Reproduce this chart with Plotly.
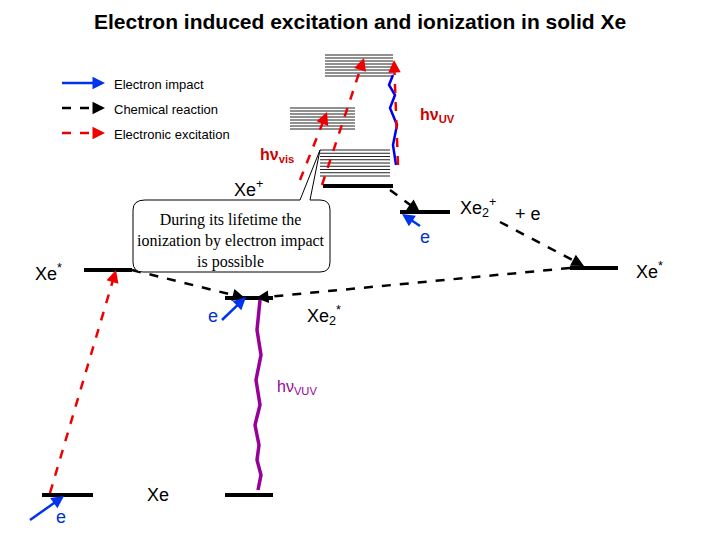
import math
import plotly.graph_objects as go

# energy levels (x0, x1, y) in picture units (y grows downward)
levels = [(42, 93, 495), (225, 273, 495), (84, 132, 270), (225, 273, 298),
          (323, 393, 186), (400, 450, 212), (570, 618, 268)]
# thin band stacks (x0, x1, y_top, y_bottom, n_lines)
bands = [(325, 393, 55, 76, 8), (290, 355, 108, 129, 8), (320, 390, 150, 176, 9)]
red_arrows = [((50, 493), (116, 270)), ((300, 180), (327, 112)),
              ((322, 185), (364, 58)), ((398, 165), (394, 60))]
black_arrows = [((132, 270), (245, 298)), ((390, 190), (420, 212)),
                ((500, 222), (584, 266)), ((570, 268), (256, 298))]
blue_arrows = [((30, 520), (64, 496)), ((222, 320), (246, 297)), ((420, 226), (402, 214))]
blue_bolt_x = [396, 393, 397, 390, 395, 389, 393]
blue_bolt_y = [165, 145, 125, 108, 95, 85, 75]
purple_bolt_x = [260, 257, 261, 256, 260, 255, 259, 257, 261, 258]
purple_bolt_y = [300, 330, 355, 380, 405, 425, 445, 460, 475, 490]

fig = go.Figure()

def line(xs, ys, color, width, dash='solid'):
    fig.add_trace(go.Scatter(x=xs, y=ys, mode='lines', hoverinfo='skip',
                             line=dict(color=color, width=width, dash=dash)))

def arrow(p0, p1, color, dash):
    dx, dy = p1[0] - p0[0], p1[1] - p0[1]
    n = math.hypot(dx, dy)
    line([p0[0], p1[0] - dx / n * 6], [p0[1], p1[1] - dy / n * 6], color, 2.5, dash)
    fig.add_annotation(x=p1[0], y=p1[1], ax=p1[0] - dx / n * 12, ay=p1[1] - dy / n * 12,
                       xref='x', yref='y', axref='x', ayref='y', showarrow=True,
                       arrowhead=2, arrowsize=1, arrowwidth=2.5, arrowcolor=color, text='')

for x0, x1, y in levels:
    line([x0, x1], [y, y], 'black', 4)
for x0, x1, yt, yb, n in bands:
    for i in range(n):
        y = yt + (yb - yt) * i / (n - 1)
        line([x0, x1], [y, y], '#222222', 1)

# callout box
fig.add_shape(type='path', path='M 145 200 L 300 200 L 320 150 L 310 200 L 320 200 Q 330 200 330 210 '
              'L 330 262 Q 330 272 320 272 L 143 272 Q 133 272 133 262 L 133 210 Q 133 200 145 200 Z',
              line=dict(color='black', width=1), fillcolor='white')

line(blue_bolt_x, blue_bolt_y, '#0000ee', 2.5)
line(purple_bolt_x, purple_bolt_y, '#990099', 3.5)

for p0, p1 in red_arrows:
    arrow(p0, p1, '#ee0000', 'dash')
for p0, p1 in black_arrows:
    arrow(p0, p1, 'black', 'dash')
for p0, p1 in blue_arrows:
    arrow(p0, p1, '#0033ee', 'solid')

# legend
arrow((62, 83), (105, 83), '#0033ee', 'solid')
arrow((62, 108), (105, 108), 'black', 'dash')
arrow((62, 133), (105, 133), '#ee0000', 'dash')

texts = [
    (112, 84, 'Electron impact', 13, 'black'),
    (112, 109, 'Chemical reaction', 13, 'black'),
    (112, 134, 'Electronic excitation', 13, 'black'),
    (418, 115, '<b>hν<sub>UV</sub></b>', 16, '#cc0000'),
    (258, 155, '<b>hν<sub>vis</sub></b>', 16, '#cc0000'),
    (232, 188, 'Xe<sup>+</sup>', 18, 'black'),
    (458, 207, 'Xe<sub>2</sub><sup>+</sup>', 18, 'black'),
    (513, 214, '+ e', 18, 'black'),
    (418, 237, 'e', 18, '#0033cc'),
    (33, 272, 'Xe<sup>*</sup>', 18, 'black'),
    (634, 270, 'Xe<sup>*</sup>', 18, 'black'),
    (206, 316, 'e', 18, '#0033cc'),
    (305, 315, 'Xe<sub>2</sub><sup>*</sup>', 18, 'black'),
    (275, 387, 'hν<sub>VUV</sub>', 16, '#990099'),
    (145, 495, 'Xe', 18, 'black'),
    (54, 517, 'e', 18, '#0033cc'),
]
for x, y, t, s, c in texts:
    fig.add_annotation(x=x, y=y, text=t, showarrow=False, xanchor='left',
                       font=dict(size=s, color=c, family='Arial'))

fig.add_annotation(x=360, y=21, showarrow=False,
                   text='<b>Electron induced excitation and ionization in solid Xe</b>',
                   font=dict(size=21, family='Arial', color='black'))
fig.add_annotation(x=231, y=241, showarrow=False,
                   text='During its lifetime the<br>ionization by electron impact<br>is possible',
                   font=dict(size=16, family='Liberation Serif', color='black'))

# page has an 8px body margin, so shift the visible window by 8
fig.update_layout(width=720, height=540, showlegend=False,
                  margin=dict(l=0, r=0, t=0, b=0),
                  paper_bgcolor='white', plot_bgcolor='white',
                  xaxis=dict(range=[8, 728], visible=False),
                  yaxis=dict(range=[548, 8], visible=False))
fig.write_html("out.html")
